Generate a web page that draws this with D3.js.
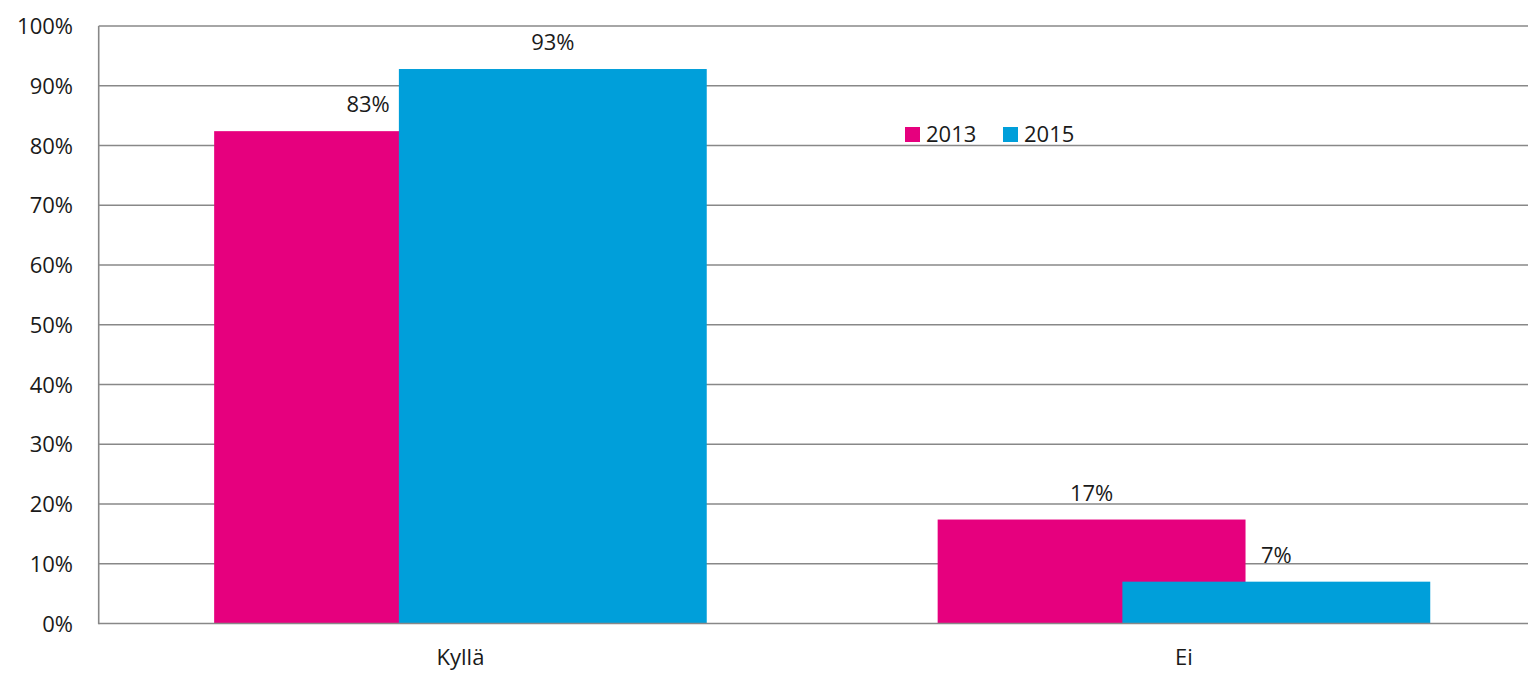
<!DOCTYPE html>
<html>
<head>
<meta charset="utf-8">
<script src="https://cdn.jsdelivr.net/npm/d3@7"></script>
<style>
  html, body { margin: 0; padding: 0; background: #fff; }
  svg { display: block; }
  text { font-family: "Open Sans", "DejaVu Sans", sans-serif; fill: #1a1a1a; }
</style>
</head>
<body>
<svg id="chart" width="1528" height="674"></svg>
<script>
const categories = ["Kyllä", "Ei"];
const seriesNames = ["2013", "2015"];
const values2013 = [0.824, 0.174];
const values2015 = [0.928, 0.070];
const valueLabels2013 = ["83%", "17%"];
const valueLabels2015 = ["93%", "7%"];
const yTicks = [0, 0.1, 0.2, 0.3, 0.4, 0.5, 0.6, 0.7, 0.8, 0.9, 1.0];
const colors = ["#E6007E", "#009FDA"];

const series = [
  { name: seriesNames[0], values: values2013, labels: valueLabels2013, color: colors[0] },
  { name: seriesNames[1], values: values2015, labels: valueLabels2015, color: colors[1] }
];

const svg = d3.select("#chart");
const plotLeft = 98.7, plotRight = 1545.7, plotTop = 26, plotBottom = 623.5;

const x = d3.scaleBand().domain(categories).range([plotLeft, plotRight]).padding(0);
const y = d3.scaleLinear().domain([0, 1]).range([plotBottom, plotTop]);

// Excel-like clustered bar geometry
const gapWidth = 0.75, overlap = 0.4, n = series.length;
const bw = x.step() / ((n - (n - 1) * overlap) + gapWidth);
const groupW = bw * (n - (n - 1) * overlap);
const off = bw * (1 - overlap);

// gridlines
const grid = svg.append("g");
grid.selectAll("line").data(yTicks.filter(t => t > 0)).enter().append("line")
  .attr("x1", plotLeft).attr("x2", 1528)
  .attr("y1", d => y(d)).attr("y2", d => y(d))
  .attr("stroke", "#888").attr("stroke-width", 1.6);

// bars
series.forEach((s, si) => {
  const g = svg.append("g");
  g.selectAll("rect").data(categories).enter().append("rect")
    .attr("x", c => x(c) + x.bandwidth() / 2 - groupW / 2 + si * off)
    .attr("width", bw)
    .attr("y", (c, i) => y(s.values[i]))
    .attr("height", (c, i) => y(0) - y(s.values[i]))
    .attr("fill", s.color);
});

// value labels
series.forEach((s, si) => {
  svg.append("g").selectAll("text").data(categories).enter().append("text")
    .attr("x", c => x(c) + x.bandwidth() / 2 - groupW / 2 + si * off + bw / 2)
    .attr("y", (c, i) => y(s.values[i]) - 19)
    .attr("text-anchor", "middle")
    .attr("font-size", 22)
    .text((c, i) => s.labels[i]);
});

// axes lines
svg.append("line").attr("x1", plotLeft).attr("x2", plotLeft)
  .attr("y1", plotTop).attr("y2", plotBottom + 0.8)
  .attr("stroke", "#888").attr("stroke-width", 1.6);
svg.append("line").attr("x1", plotLeft).attr("x2", 1528)
  .attr("y1", plotBottom).attr("y2", plotBottom)
  .attr("stroke", "#888").attr("stroke-width", 1.6);

// y tick labels
const yAxis = d3.axisLeft(y).tickValues(yTicks).tickFormat(d3.format(".0%")).tickSize(0).tickPadding(0);
const ya = svg.append("g").attr("transform", "translate(73,0)").call(yAxis);
ya.select(".domain").remove();
ya.selectAll("text").attr("font-size", 22).attr("fill", "#1a1a1a")
  .attr("font-family", '"Open Sans", "DejaVu Sans", sans-serif').attr("dy", "0.35em");

// x labels
const xAxis = d3.axisBottom(x).tickSize(0).tickPadding(0);
const xa = svg.append("g").attr("transform", `translate(0,${plotBottom + 41})`).call(xAxis);
xa.select(".domain").remove();
xa.selectAll("text").attr("font-size", 22).attr("fill", "#1a1a1a")
  .attr("font-family", '"Open Sans", "DejaVu Sans", sans-serif').attr("dy", "0");

// legend
const legendItems = [{ x: 905 }, { x: 1003 }];
series.forEach((s, si) => {
  const lg = svg.append("g").attr("transform", `translate(${legendItems[si].x},127)`);
  lg.append("rect").attr("width", 15).attr("height", 15).attr("fill", s.color);
  lg.append("text").attr("x", 21).attr("y", 14.5).attr("font-size", 22).text(s.name);
});
</script>
</body>
</html>
